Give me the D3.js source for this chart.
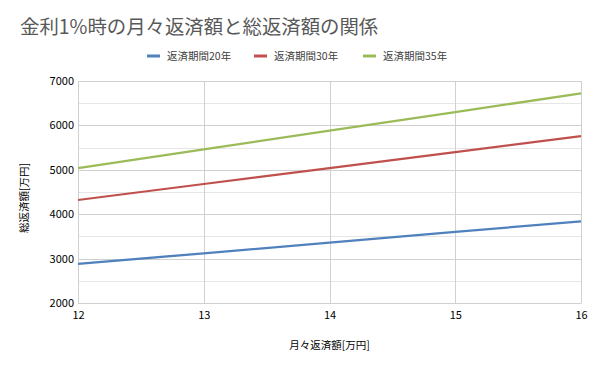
<!DOCTYPE html>
<html>
<head>
<meta charset="utf-8">
<script src="https://cdn.jsdelivr.net/npm/d3@7"></script>
<style>
  body { margin: 0; background: #fff; }
  text { font-family: "Noto Sans CJK JP", "Noto Sans", sans-serif; }
</style>
</head>
<body>
<svg id="chart" width="600" height="371"></svg>
<script>
// monthly payment [万円]
const monthly = [12, 13, 14, 15, 16];
// total repayment [万円] per loan term
const term20 = [2880, 3120, 3360, 3600, 3840];
const term30 = [4320, 4680, 5040, 5400, 5760];
const term35 = [5040, 5460, 5880, 6300, 6720];
const seriesNames = ['返済期間20年', '返済期間30年', '返済期間35年'];
const seriesColors = ['#4f81bd', '#c0504d', '#9bbb59'];
const yTicks = [2000, 3000, 4000, 5000, 6000, 7000];
const yMinor = [2500, 3500, 4500, 5500, 6500];

const series = [term20, term30, term35].map((vals, i) => ({
    name: seriesNames[i],
    color: seriesColors[i],
    points: vals.map((v, j) => ({ x: monthly[j], y: v }))
}));

const svg = d3.select('#chart');
const margin = { left: 78, right: 19, top: 81, bottom: 68 };
const W = 600, H = 371;

const x = d3.scaleLinear().domain([12, 16]).range([margin.left, W - margin.right]);
const y = d3.scaleLinear().domain([2000, 7000]).range([H - margin.bottom, margin.top]);

// minor gridlines
svg.append('g').selectAll('line').data(yMinor).join('line')
    .attr('x1', x(12)).attr('x2', x(16))
    .attr('y1', d => Math.round(y(d)) + 0.5).attr('y2', d => Math.round(y(d)) + 0.5)
    .attr('stroke', '#e6e6e6').attr('stroke-width', 1);

// major horizontal gridlines
svg.append('g').selectAll('line').data(yTicks).join('line')
    .attr('x1', x(12)).attr('x2', x(16))
    .attr('y1', d => Math.round(y(d)) + 0.5).attr('y2', d => Math.round(y(d)) + 0.5)
    .attr('stroke', '#d0d0d0').attr('stroke-width', 1);

// vertical gridlines
svg.append('g').selectAll('line').data(monthly).join('line')
    .attr('x1', d => Math.round(x(d)) + 0.5).attr('x2', d => Math.round(x(d)) + 0.5)
    .attr('y1', y(7000)).attr('y2', y(2000))
    .attr('stroke', '#d0d0d0').attr('stroke-width', 1);

// axes
const xAxis = svg.append('g')
    .attr('transform', `translate(0,${H - margin.bottom})`)
    .call(d3.axisBottom(x).tickValues(monthly).tickSize(0).tickPadding(8).tickFormat(d3.format('d')));
xAxis.select('.domain').attr('stroke', '#d0d0d0');
xAxis.selectAll('text').attr('font-size', 11).attr('fill', '#000');

const yAxis = svg.append('g')
    .attr('transform', `translate(${margin.left},0)`)
    .call(d3.axisLeft(y).tickValues(yTicks).tickSize(0).tickPadding(4).tickFormat(d3.format('d')));
yAxis.select('.domain').attr('stroke', '#d0d0d0');
yAxis.selectAll('text').attr('font-size', 11).attr('fill', '#000');

// lines
const line = d3.line().x(d => x(d.x)).y(d => y(d.y));
svg.append('g').selectAll('path').data(series).join('path')
    .attr('d', d => line(d.points))
    .attr('fill', 'none')
    .attr('stroke', d => d.color)
    .attr('stroke-width', 2.25);

// title
svg.append('text')
    .attr('x', 20).attr('y', 34)
    .attr('font-size', 19.4)
    .attr('fill', '#595959')
    .text('金利1%時の月々返済額と総返済額の関係');

// legend
const legendX = [147, 254, 363];
const legend = svg.append('g').selectAll('g').data(series).join('g')
    .attr('transform', (d, i) => `translate(${legendX[i]},56)`);
legend.append('line')
    .attr('x1', 0).attr('x2', 13).attr('y1', 0).attr('y2', 0)
    .attr('stroke', d => d.color).attr('stroke-width', 3);
legend.append('text')
    .attr('x', 20).attr('y', 4)
    .attr('font-size', 10.5).attr('fill', '#404040')
    .text(d => d.name);

// axis titles
svg.append('text')
    .attr('x', (x(12) + x(16)) / 2).attr('y', 349)
    .attr('text-anchor', 'middle')
    .attr('font-size', 10.5).attr('fill', '#000')
    .text('月々返済額[万円]');

svg.append('text')
    .attr('transform', `translate(28,198) rotate(-90)`)
    .attr('text-anchor', 'middle')
    .attr('font-size', 10.5).attr('fill', '#000')
    .text('総返済額[万円]');
</script>
</body>
</html>
